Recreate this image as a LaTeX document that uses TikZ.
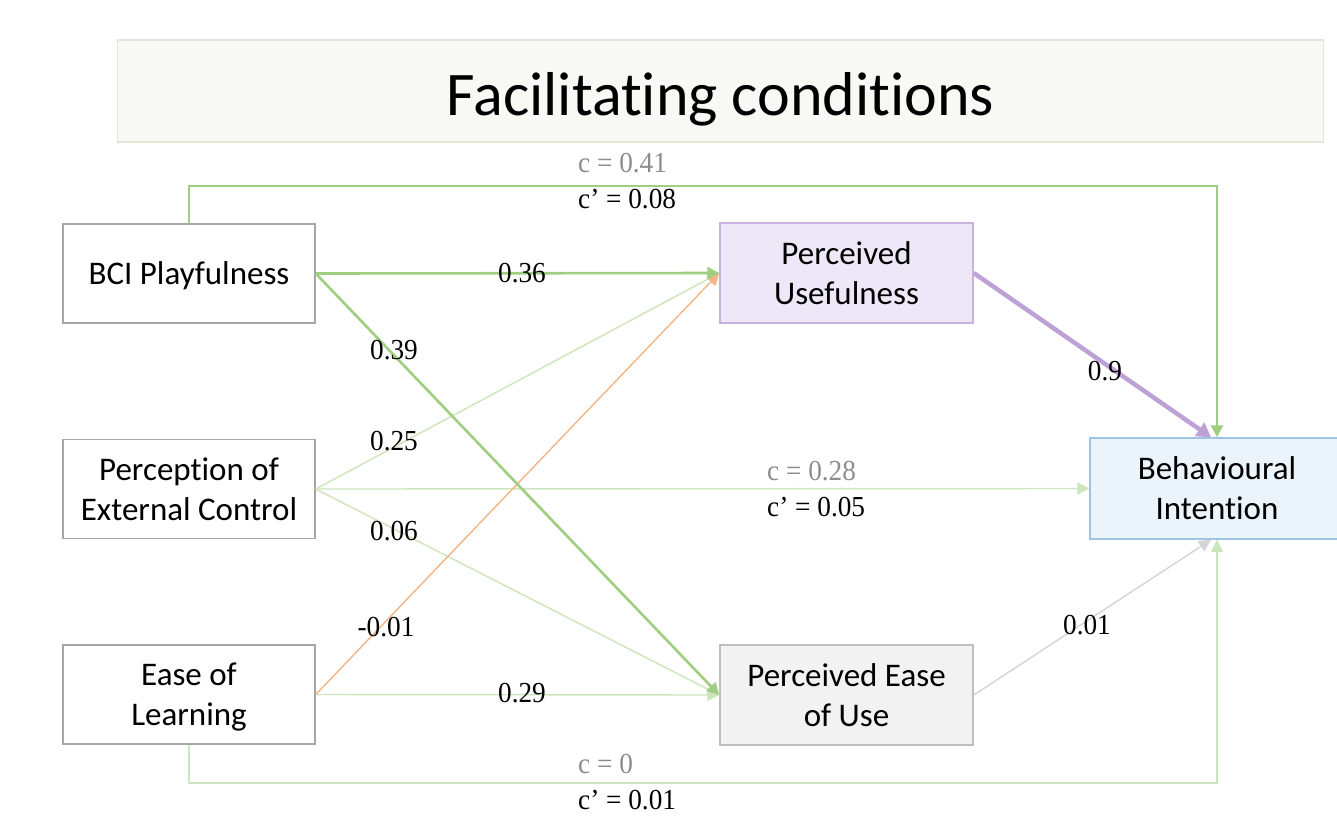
\documentclass[tikz,border=0pt]{standalone}
\usepackage{fontspec}
\setmainfont{Carlito}[Ligatures=NoCommon, RawFeature={-liga;-calt;-clig}]
\newfontfamily\lblfont{Liberation Serif}[FakeStretch=0.94]
\usetikzlibrary{arrows.meta}
\definecolor{gthick}{RGB}{160,206,128}
\definecolor{gthin}{RGB}{204,229,188}
\definecolor{orng}{RGB}{244,180,134}
\definecolor{purp}{RGB}{190,162,214}
\definecolor{gedge}{RGB}{212,212,212}
\definecolor{pufill}{RGB}{237,231,248}
\definecolor{puborder}{RGB}{200,178,222}
\definecolor{bifill}{RGB}{235,243,251}
\definecolor{biborder}{RGB}{157,195,230}
\definecolor{pefill}{RGB}{242,242,242}
\definecolor{peborder}{RGB}{191,191,191}
\definecolor{lborder}{RGB}{166,166,166}
\definecolor{lgray}{RGB}{140,140,140}
\definecolor{tfill}{RGB}{248,248,245}
\definecolor{tborder}{RGB}{226,230,217}
\newcommand{\lowr}[2]{\raisebox{-#1}[\height][\depth]{#2}}
\newcommand{\twol}[2]{\lowr{3pt}{\begin{tabular}{@{}c@{}}#1\\#2\end{tabular}}}
\tikzset{
  box/.style={draw=lborder, line width=1.5pt, fill=white, minimum width=252pt, minimum height=99pt, inner sep=0pt, align=center, font=\fontsize{33}{40}\selectfont},
  lbl/.style={font=\lblfont\fontsize{29}{34}\selectfont, inner sep=0pt, text=black},
  lblg/.style={lbl, text=lgray},
  tip/.style={-{Triangle[length=12pt,width=12pt]}},
  thickg/.style={tip, draw=gthick, line width=2.6pt},
  thing/.style={tip, draw=gthin, line width=1.4pt},
}
\begin{document}
\begin{tikzpicture}[x=1pt,y=-1pt]
\useasboundingbox (0,0) rectangle (1337,827);
% title
\node[draw=tborder, line width=1.5pt, fill=tfill, minimum width=1206pt, minimum height=102pt, inner sep=0pt, font=\fontsize{62}{70}\selectfont] (title) at (720.5,91) {\lowr{8pt}{Facilitating conditions}};
% nodes
\node[box] (bci) at (189,273.5) {\lowr{2pt}{BCI Playfulness}};
\node[box] (pec) at (189,489) {\twol{Perception of}{External Control}};
\node[box] (eol) at (189,694.5) {\twol{Ease of}{Learning}};
\node[box, draw=puborder, fill=pufill, minimum width=253pt, minimum height=100pt] (pu) at (846.5,273) {\twol{Perceived}{Usefulness}};
\node[box, draw=peborder, fill=pefill, minimum width=253pt, minimum height=100pt] (peou) at (846.5,695) {\twol{Perceived Ease}{of Use}};
\node[box, draw=biborder, fill=bifill, minimum width=254pt, minimum height=101pt] (bi) at (1217,488.5) {\twol{Behavioural}{Intention}};
% thin connectors
\draw[thing] (pec.east) -- (pu.west);
\draw[thing] (pec.east) -- (bi.west);
\draw[thing] (pec.east) -- (peou.west);
\draw[tip, draw=orng, line width=1.4pt] (eol.east) -- (pu.west);
\draw[thing] (eol.east) -- (peou.west);
\draw[thing] (eol.south) -- (eol.south |- 0,783) -- (bi.south |- 0,783) -- (bi.south);
\draw[tip, draw=gedge, line width=1.4pt] (peou.east) -- ([xshift=-6pt]bi.south);
% thick connectors
\draw[thickg] (bci.north) -- (bci.north |- 0,186) -- (bi.north |- 0,186) -- (bi.north);
\draw[thickg] (bci.east) -- (pu.west);
\draw[thickg] (bci.east) -- (peou.west);
\draw[tip, draw=purp, line width=4.5pt, -{Triangle[length=14pt,width=16pt]}] (pu.east) -- ([xshift=-6pt]bi.north);
% labels
\node[lblg, anchor=west] (c1) at (578,163) {c = 0.41};
\node[lbl, anchor=west] (c1p) at (578,199) {c’ = 0.08};
\node[lbl] (l36) at (522,273) {0.36};
\node[lbl] (l39) at (394,350) {0.39};
\node[lbl] (l25) at (394,441) {0.25};
\node[lblg, anchor=west] (c2) at (767,471) {c = 0.28};
\node[lbl, anchor=west] (c2p) at (767,507) {c’ = 0.05};
\node[lbl] (l06) at (394,531) {0.06};
\node[lbl] (lm01) at (386,627) {-0.01};
\node[lbl] (l29) at (522,693) {0.29};
\node[lbl] (l9) at (1105,371) {0.9};
\node[lbl] (l01) at (1087,625) {0.01};
\node[lblg, anchor=west] (c3) at (578,764) {c = 0};
\node[lbl, anchor=west] (c3p) at (578,800) {c’ = 0.01};
\end{tikzpicture}
\end{document}
